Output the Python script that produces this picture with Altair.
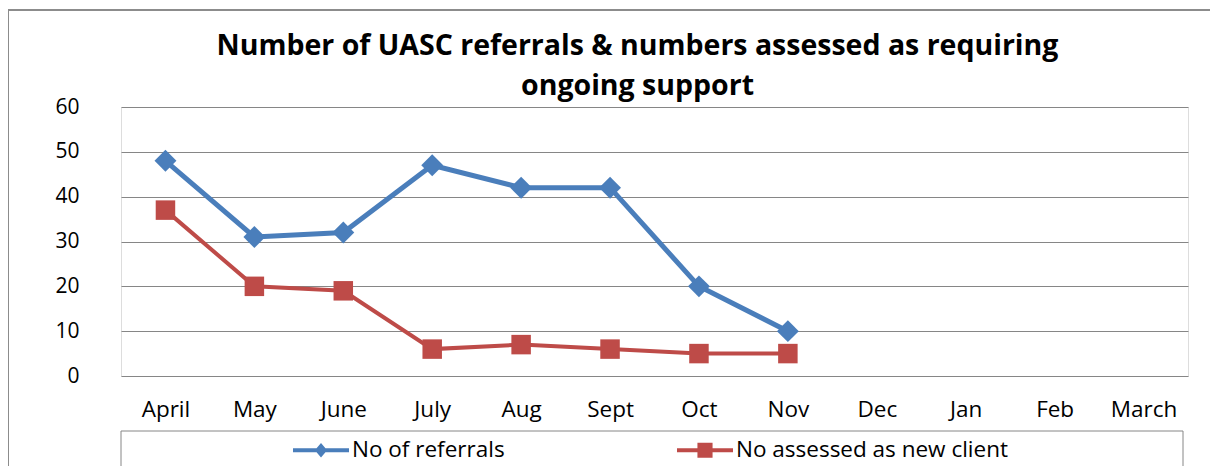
import altair as alt
import pandas as pd

months = ["April", "May", "June", "July", "Aug", "Sept", "Oct", "Nov", "Dec", "Jan", "Feb", "March"]
data_months = ["April", "May", "June", "July", "Aug", "Sept", "Oct", "Nov"]
referrals = [48, 31, 32, 47, 42, 42, 20, 10]
assessed = [37, 20, 19, 6, 7, 6, 5, 5]
series_names = ["No of referrals", "No assessed as new client"]
series_colors = ["#4A7EBB", "#BE4B48"]
title_lines = ["Number of UASC referrals & numbers assessed as requiring", "ongoing support"]

rows = []
for m, v in zip(data_months, referrals):
    rows.append({"month": m, "value": v, "series": series_names[0]})
for m, v in zip(data_months, assessed):
    rows.append({"month": m, "value": v, "series": series_names[1]})
df = pd.DataFrame(rows)

FONT = "Open Sans"
GRID = "#868686"

x_enc = alt.X("month:N", sort=months,
              scale=alt.Scale(type="point", domain=months, padding=0.5),
              axis=alt.Axis(title=None, labelAngle=0, ticks=False, domain=False,
                            labelPadding=22, labelFontSize=22.5, labelFont=FONT,
                            labelColor="#000000"))
y_enc = alt.Y("value:Q",
              scale=alt.Scale(domain=[0, 60], nice=False),
              axis=alt.Axis(title=None, values=[0, 10, 20, 30, 40, 50, 60], ticks=False,
                            domain=False, grid=True, gridColor=GRID, gridWidth=1,
                            labelPadding=42, labelFontSize=21, labelFont=FONT,
                            labelColor="#000000"))

base = alt.Chart(df)

def series_layers(name, color, width, shape, size):
    d = base.transform_filter(alt.datum.series == name)
    line = d.mark_line(color=color, strokeWidth=width).encode(x=x_enc, y=y_enc)
    pts = d.mark_point(shape=shape, filled=True, color=color, size=size, opacity=1).encode(x=x_enc, y=y_enc)
    return [line, pts]

blue = series_layers(series_names[0], series_colors[0], 5, "diamond", 480)
red = series_layers(series_names[1], series_colors[1], 4, "square", 380)

path_diamond = "M-1,-0.07L1,-0.07L1,0.07L-1,0.07Z M0,-0.26L0.22,0L0,0.26L-0.22,0Z"
path_square = "M-1,-0.07L1,-0.07L1,0.07L-1,0.07Z M-0.27,-0.27L0.27,-0.27L0.27,0.27L-0.27,0.27Z"

leg = dict(title=None, orient="none", legendX=172, legendY=315,
           direction="horizontal", columnPadding=172, labelOffset=3,
           symbolSize=3136, symbolStrokeWidth=0, labelFontSize=22.5,
           labelFont=FONT, labelColor="#000000", padding=0, labelLimit=400)

legend_layer = base.transform_filter(alt.datum.value < -1000).mark_point(filled=True, opacity=1).encode(
    x=x_enc, y=y_enc,
    color=alt.Color("series:N", scale=alt.Scale(domain=series_names, range=series_colors),
                    legend=alt.Legend(**leg)),
    shape=alt.Shape("series:N", scale=alt.Scale(domain=series_names, range=[path_diamond, path_square]),
                    legend=alt.Legend(**leg)),
)

deco = alt.Chart(alt.Data(values=[{}]))
outer_box = deco.mark_rect(fill=None, stroke="#8C8C8C", strokeWidth=2).encode(
    x=alt.value(-113), x2=alt.value(1090), y=alt.value(-97), y2=alt.value(400))
legend_box = deco.mark_rect(fill=None, stroke=GRID, strokeWidth=1).encode(
    x=alt.value(0), x2=alt.value(1062), y=alt.value(324), y2=alt.value(363))

chart = alt.layer(outer_box, legend_box, *red, *blue, legend_layer).properties(
    width=1067, height=269,
    title=alt.Title(title_lines, fontSize=28.5, font=FONT, fontWeight="bold", color="#000000",
                    anchor="middle", dx=-17, offset=-91, lineHeight=40),
    autosize=alt.AutoSizeParams(type="none"),
    padding={"left": 113, "top": 99, "right": 22, "bottom": 90},
).configure_view(stroke=GRID, strokeWidth=1).configure(background="#ffffff")

chart.save("out.html", embed_options={"renderer": "svg", "actions": False})
